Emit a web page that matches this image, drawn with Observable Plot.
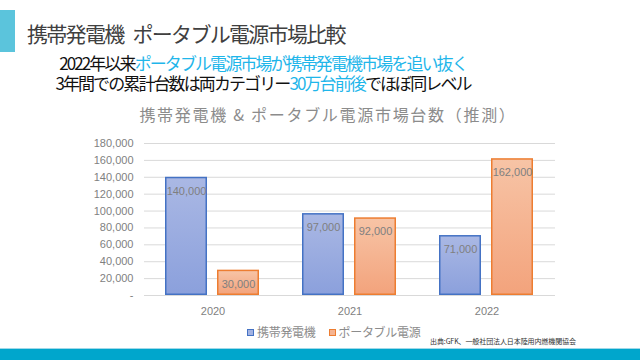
<!DOCTYPE html>
<html>
<head>
<meta charset="utf-8">
<script src="https://cdn.jsdelivr.net/npm/d3@7"></script>
<script src="https://cdn.jsdelivr.net/npm/@observablehq/plot@0.6"></script>
<style>
  html, body { margin: 0; padding: 0; background: #fff; }
  body { width: 640px; height: 360px; position: relative; overflow: hidden; font-family: "Noto Sans CJK JP", sans-serif; }
  .abs { position: absolute; white-space: nowrap; }
  #accent { left: 0; top: 10px; width: 15px; height: 42px; background: #5bc4dc; }
  #footer { left: 0; top: 348px; width: 640px; height: 12px; background: #00a6cc; border-top: 1px solid #9fd9e9; }
  #title { left: 27px; top: 18px; font-size: 21px; line-height: 30px; color: #404040; letter-spacing: -1.7px; }
  #title .gap { display: inline-block; width: 9px; }
  .sub { left: 0; width: 526px; text-align: center; font-size: 17px; line-height: 18px; color: #111; letter-spacing: -1.9px; }
  .hl { color: #1fb6ea; }
  #ctitle { left: 0; width: 656px; text-align: center; top: 103px; font-size: 16px; line-height: 22px; color: #8c8c8c; letter-spacing: 1.7px; }
  #legend { left: 247px; top: 323px; font-size: 12px; line-height: 18px; color: #8c8c8c; letter-spacing: -0.3px; }
  #legend span.sw { display: inline-block; width: 5px; height: 5px; margin-right: 3px; vertical-align: 1px; border: 0.5px solid; }
  #source { left: 430px; top: 335px; font-size: 7px; line-height: 12px; color: #333; letter-spacing: -0.1px; }
  #chart { left: 0; top: 130px; }
</style>
</head>
<body>
<div id="accent" class="abs"></div>
<div id="title" class="abs">携帯発電機<span class="gap"></span>ポータブル電源市場比較</div>
<div class="abs sub" style="top:54px">2022年以来<span class="hl">ポータブル電源市場が携帯発電機市場を追い抜く</span></div>
<div class="abs sub" style="top:74px">3年間での累計台数は両カテゴリー<span class="hl">30万台前後</span>でほぼ同レベル</div>
<div id="ctitle" class="abs">携帯発電機 &amp; ポータブル電源市場台数（推測）</div>
<div id="chart" class="abs"></div>
<div id="legend" class="abs"></div>
<div id="source" class="abs">出典:GFK、一般社団法人日本陸用内燃機関協会</div>
<div id="footer" class="abs"></div>
<script>
const years = ["2020", "2021", "2022"];
const series = ["携帯発電機", "ポータブル電源"];
const generatorUnits = [140000, 97000, 71000];
const portableUnits = [30000, 92000, 162000];
const yTicks = [0, 20000, 40000, 60000, 80000, 100000, 120000, 140000, 160000, 180000];

const seriesColors = ["#4472c4", "#ed7d31"];
const swatchFills = ["#a3b3e2", "#f5b491"];
const seriesFills = ["url(#gradBlue)", "url(#gradOrange)"];

const rows = [];
years.forEach((y, i) => {
  rows.push({year: y, series: series[0], value: generatorUnits[i]});
  rows.push({year: y, series: series[1], value: portableUnits[i]});
});

const fmt = d3.format(",");
const labelFont = "Liberation Sans, Arial, sans-serif";

const marks = [
  Plot.gridY(yTicks, {stroke: "#d9d9d9", strokeOpacity: 1, strokeWidth: 1}),
  Plot.axisY(yTicks, {tickSize: 0, tickPadding: 11, label: null, tickFormat: d => d === 0 ? "-" : fmt(d), fill: "#7f7f7f", fontSize: 11, fontFamily: labelFont}),
  Plot.axisFx({anchor: "bottom", tickSize: 0, tickPadding: 12, fill: "#7f7f7f", fontSize: 11, fontFamily: labelFont, label: null}),
];
series.forEach((s, i) => {
  const sub = rows.filter(r => r.series === s);
  marks.push(Plot.barY(sub, {fx: "year", x: "series", y: "value", fill: seriesFills[i], stroke: seriesColors[i], strokeWidth: 1.5, inset: 0.75}));
});
marks.push(Plot.text(rows, {fx: "year", x: "series", y: "value", text: d => fmt(d.value), dy: 14, fill: "#7f7f7f", fontSize: 11, fontFamily: labelFont}));

const chart = Plot.plot({
  width: 640,
  height: 190,
  marginTop: 13,
  marginBottom: 25,
  marginLeft: 143,
  marginRight: 85,
  fx: {domain: years, padding: 0, label: null},
  x: {domain: series, paddingInner: 0.19, paddingOuter: 0.3875, axis: null},
  y: {domain: [0, 180000], axis: null},
  style: {fontFamily: labelFont, background: "transparent"},
  marks
});

// gradient definitions for the bar fills
const defs = d3.select(chart).insert("defs", ":first-child");
const addGrad = (id, top, bottom) => {
  const g = defs.append("linearGradient").attr("id", id).attr("x1", 0).attr("y1", 0).attr("x2", 0).attr("y2", 1);
  g.append("stop").attr("offset", "0%").attr("stop-color", top);
  g.append("stop").attr("offset", "100%").attr("stop-color", bottom);
};
addGrad("gradBlue", "#aab8e4", "#8ba0dc");
addGrad("gradOrange", "#f7c4a6", "#f3a37c");

document.getElementById("chart").appendChild(chart);

// legend
const legend = document.getElementById("legend");
series.forEach((s, i) => {
  const item = document.createElement("span");
  item.style.marginRight = "13px";
  item.innerHTML = `<span class="sw" style="background:${swatchFills[i]};border-color:${seriesColors[i]}"></span>${s}`;
  legend.appendChild(item);
});
</script>
</body>
</html>
